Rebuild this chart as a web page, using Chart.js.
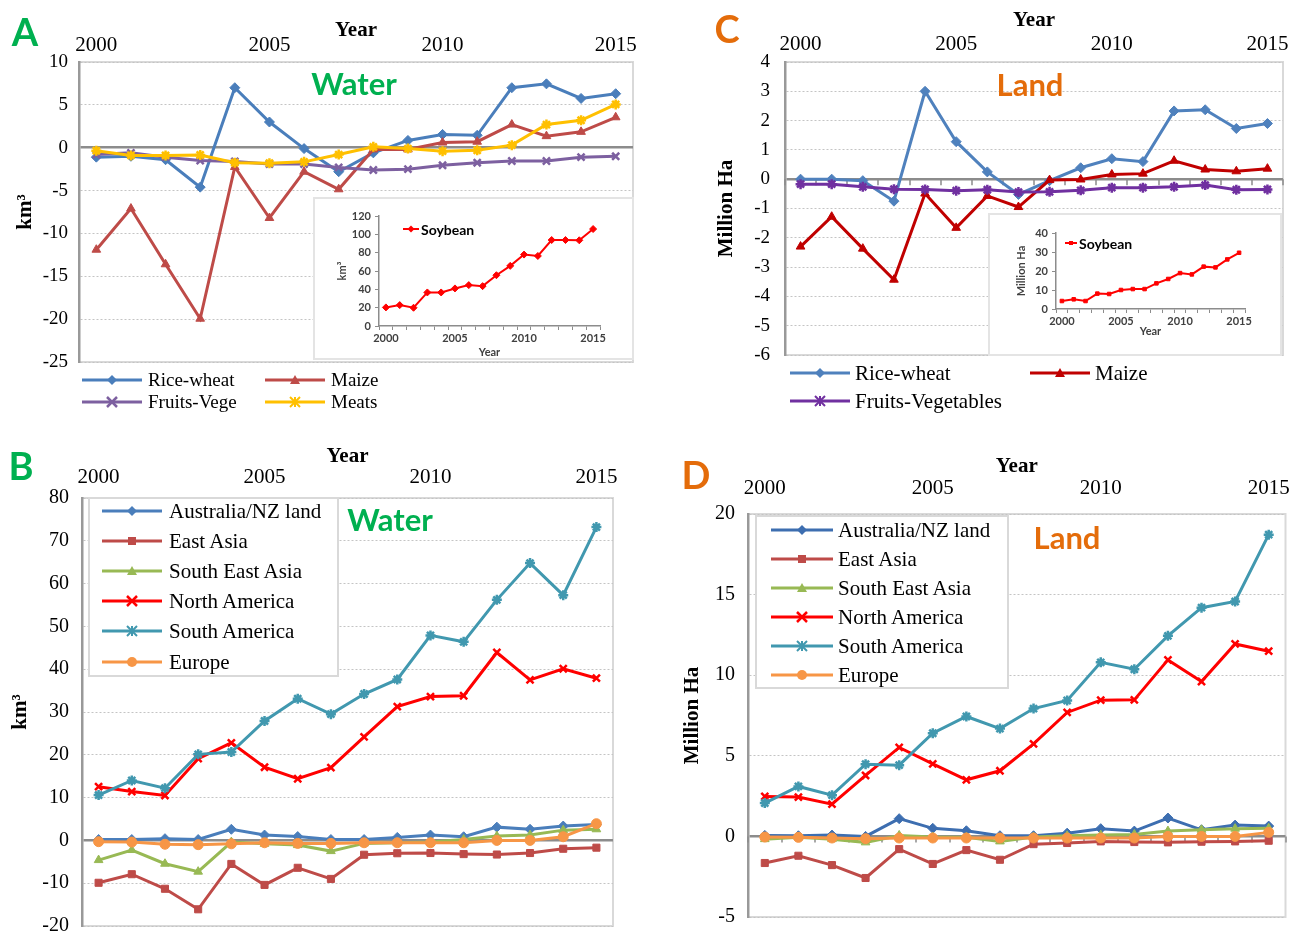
<!DOCTYPE html>
<html>
<head>
<meta charset="utf-8">
<script src="https://cdn.jsdelivr.net/npm/chart.js@4.4.1/dist/chart.umd.min.js"></script>
<style>
  body { margin: 0; background: #fff; width: 1293px; height: 937px; position: relative; overflow: hidden; font-family: "Liberation Serif", serif; }
  canvas { position: absolute; }
  .txt { position: absolute; transform: translate(-50%, -50%); white-space: nowrap; font-family: Lato, "Open Sans", sans-serif; font-weight: bold; }
  .inset { position: absolute; background: #fff; border: 2px solid #e4e4e4; box-sizing: border-box; }
  .legbox { position: absolute; background: #fff; border: 2px solid #d9d9d9; box-sizing: border-box; }
  .lg { position: absolute; display: flex; align-items: center; height: 24px; white-space: nowrap; color: #000; }
  .lg svg { flex: none; }
</style>
</head>
<body>
<canvas id="chartA" width="642" height="373" style="left:0px;top:0px"></canvas>
<canvas id="chartB" width="621" height="507" style="left:0px;top:430px"></canvas>
<canvas id="chartC" width="588" height="366" style="left:705px;top:0px"></canvas>
<canvas id="chartD" width="621" height="488" style="left:672px;top:440px"></canvas>

<div class="inset" style="left:313px;top:197px;width:321px;height:163px"></div>
<canvas id="insetA" width="321" height="163" style="left:313px;top:197px"></canvas>
<div class="inset" style="left:988px;top:213px;width:294px;height:143px"></div>
<canvas id="insetC" width="294" height="143" style="left:988px;top:213px"></canvas>

<div class="legbox" style="left:88px;top:497px;width:251px;height:180px"></div>
<div class="legbox" style="left:755px;top:515px;width:254px;height:174px"></div>

<div class="txt" style="left:25px;top:31px;font-size:38px;color:#00b050">A</div>
<div class="txt" style="left:21px;top:465px;font-size:38px;color:#00b050">B</div>
<div class="txt" style="left:727px;top:28px;font-size:38px;color:#e46c0a">C</div>
<div class="txt" style="left:696px;top:474px;font-size:38px;color:#e46c0a">D</div>
<div class="txt" style="left:354px;top:83px;font-size:31px;color:#00b050">Water</div>
<div class="txt" style="left:390px;top:519px;font-size:31px;color:#00b050">Water</div>
<div class="txt" style="left:1030px;top:84px;font-size:31px;color:#e46c0a">Land</div>
<div class="txt" style="left:1067px;top:537px;font-size:31px;color:#e46c0a">Land</div>

<script>
const years = ['2000', '2001', '2002', '2003', '2004', '2005', '2006', '2007',
               '2008', '2009', '2010', '2011', '2012', '2013', '2014', '2015'];

// A - water by crop (km3)
const waterRiceWheat  = [-1.1, -1.0, -1.4, -4.6, 7.0, 3.0, -0.1, -2.8, -0.6, 0.85, 1.55, 1.45, 7.0, 7.45, 5.75, 6.3];
const waterMaize      = [-11.9, -7.1, -13.6, -19.95, -2.25, -8.2, -2.8, -4.85, -0.2, -0.2, 0.6, 0.7, 2.7, 1.35, 1.85, 3.55];
const waterFruitsVege = [-0.8, -0.6, -1.1, -1.5, -1.6, -1.9, -1.9, -2.3, -2.6, -2.5, -2.05, -1.75, -1.55, -1.55, -1.1, -1.0];
const waterMeats      = [-0.35, -0.9, -0.9, -0.85, -1.75, -1.8, -1.65, -0.8, 0.1, -0.1, -0.4, -0.3, 0.3, 2.7, 3.2, 5.05];
const soyWater        = [20.3, 22.8, 19.9, 36.6, 36.6, 41, 44.6, 43.5, 55.4, 65.6, 77.9, 76.4, 93.8, 93.8, 93.5, 105.8];

// C - land by crop (million ha)
const landRiceWheat = [0.0, 0.0, -0.05, -0.75, 3.0, 1.28, 0.25, -0.52, -0.05, 0.39, 0.7, 0.6, 2.33, 2.37, 1.73, 1.9];
const landMaize     = [-2.3, -1.28, -2.37, -3.43, -0.49, -1.66, -0.57, -0.95, -0.03, -0.01, 0.16, 0.19, 0.63, 0.33, 0.27, 0.36];
const landFruitsVeg = [-0.17, -0.17, -0.26, -0.34, -0.35, -0.39, -0.36, -0.44, -0.43, -0.38, -0.29, -0.29, -0.26, -0.2, -0.36, -0.35];
const soyLand       = [4.2, 5.1, 4.2, 8.1, 7.9, 10, 10.5, 10.5, 13.5, 15.8, 18.9, 18.2, 22.3, 21.9, 26.1, 29.6];

// B - water by region (km3)
const wAusNZ    = [0.2, 0.2, 0.4, 0.2, 2.6, 1.25, 0.9, 0.2, 0.2, 0.7, 1.25, 0.85, 3.1, 2.6, 3.35, 3.7];
const wEastAsia = [-9.9, -7.9, -11.3, -16.1, -5.5, -10.4, -6.4, -9.0, -3.35, -3.0, -2.95, -3.2, -3.3, -2.95, -1.95, -1.7];
const wSEAsia   = [-4.6, -2.25, -5.45, -7.3, -0.4, -0.8, -1.1, -2.5, -0.7, -0.55, -0.4, 0.2, 1.0, 1.25, 2.4, 2.6];
const wNorthAm  = [12.55, 11.4, 10.5, 19.1, 22.8, 17.1, 14.4, 17.0, 24.2, 31.25, 33.6, 33.8, 43.9, 37.5, 40.1, 37.9];
const wSouthAm  = [10.6, 14.0, 12.2, 20.1, 20.65, 27.9, 33.1, 29.5, 34.2, 37.6, 47.9, 46.4, 56.2, 64.8, 57.3, 73.2];
const wEurope   = [-0.3, -0.4, -0.9, -1.0, -0.8, -0.55, -0.7, -0.7, -0.55, -0.55, -0.55, -0.55, 0, 0, 0.85, 3.9];

// D - land by region (million ha)
const lAusNZ    = [0.06, 0.04, 0.08, 0, 1.1, 0.5, 0.35, 0.04, 0.04, 0.2, 0.48, 0.33, 1.14, 0.41, 0.7, 0.64];
const lEastAsia = [-1.65, -1.2, -1.78, -2.58, -0.79, -1.71, -0.85, -1.45, -0.48, -0.41, -0.31, -0.35, -0.37, -0.33, -0.31, -0.27];
const lSEAsia   = [-0.17, -0.06, -0.17, -0.37, 0.06, -0.04, -0.06, -0.31, -0.04, 0.04, 0.08, 0.12, 0.33, 0.41, 0.48, 0.5];
const lNorthAm  = [2.48, 2.44, 2.0, 3.78, 5.52, 4.5, 3.51, 4.07, 5.74, 7.69, 8.45, 8.47, 10.95, 9.61, 11.94, 11.49];
const lSouthAm  = [2.07, 3.1, 2.56, 4.48, 4.42, 6.4, 7.44, 6.69, 7.93, 8.43, 10.8, 10.37, 12.44, 14.19, 14.57, 18.72];
const lEurope   = [-0.04, -0.06, -0.1, -0.14, -0.1, -0.1, -0.1, -0.1, -0.1, -0.1, -0.1, -0.1, 0, 0, 0, 0.25];

// y axis ranges [min, max, step]
const yRangeA = [-25, 10, 5];
const yRangeB = [-20, 80, 10];
const yRangeC = [-6, 4, 1];
const yRangeD = [-5, 20, 5];
const yRangeSoyWater = [0, 120, 20];
const yRangeSoyLand = [0, 40, 10];

const SERIF = '"Liberation Serif", "Times New Roman", serif';
const SANS = 'Lato, "Open Sans", sans-serif';

// light grey box round the plot area, like excel
const frame = {
    id: 'frame',
    beforeDraw(chart) {
        const a = chart.chartArea, ctx = chart.ctx;
        ctx.save();
        ctx.strokeStyle = '#d9d9d9';
        ctx.lineWidth = 2;
        ctx.strokeRect(a.left, a.top, a.right - a.left, a.bottom - a.top);
        ctx.restore();
    }
};

// small tick marks hanging under the zero line (panels C and D)
const zeroTicks = {
    id: 'zeroTicks',
    beforeDatasetsDraw(chart, args, opts) {
        if (!opts.show) return;
        const x = chart.scales.x, y0 = chart.scales.y.getPixelForValue(0), ctx = chart.ctx;
        const half = (x.getPixelForTick(1) - x.getPixelForTick(0)) / 2;
        ctx.save();
        ctx.strokeStyle = '#8c8c8c';
        ctx.lineWidth = 1.5;
        ctx.beginPath();
        for (let i = 0; i <= years.length; i++) {
            const px = Math.round(x.getPixelForTick(0) - half + i * 2 * half);
            ctx.moveTo(px, y0);
            ctx.lineTo(px, y0 + 6);
        }
        ctx.stroke();
        ctx.restore();
    }
};

function line(label, data, color, pointStyle) {
    const thin = pointStyle === 'crossRot' || pointStyle === 'star';
    return {
        label, data,
        borderColor: color, backgroundColor: color,
        pointBorderColor: color, pointBackgroundColor: color,
        pointStyle, pointRadius: 5, pointBorderWidth: thin ? 2.5 : 1,
        borderWidth: 3, tension: 0,
    };
}

function mainChart(id, datasets, range, yTitle, c) {
    datasets.forEach((d, i) => { d.order = datasets.length - i; });
    return new Chart(document.getElementById(id), {
        type: 'line',
        data: { labels: years, datasets },
        options: {
            responsive: false,
            animation: false,
            layout: { padding: { top: 0, left: 0, right: c.padRight, bottom: 11 } },
            plugins: { legend: { display: false }, tooltip: { enabled: false }, zeroTicks: { show: !!c.zeroTicks } },
            scales: {
                x: {
                    type: 'category',
                    position: 'top',
                    offset: true,
                    grid: { display: false },
                    border: { display: false },
                    ticks: {
                        autoSkip: false, maxRotation: 0, minRotation: 0,
                        padding: c.tickPadX, color: '#000',
                        font: { family: SERIF, size: 21 },
                        callback: (v, i) => (i % 5 === 0 ? years[i] : ''),
                    },
                    title: {
                        display: true, text: 'Year', color: '#000',
                        font: { family: SERIF, size: 21, weight: 'bold' },
                        padding: { top: c.yearPad, bottom: 0 },
                    },
                    afterFit: s => { s.height = c.xH; s.paddingLeft = 0; s.paddingRight = 0; },
                },
                y: {
                    min: range[0], max: range[1],
                    ticks: {
                        stepSize: range[2], padding: c.tickPadY, color: '#000',
                        font: { family: SERIF, size: c.ySize || 19 },
                    },
                    grid: {
                        drawTicks: false,
                        color: ctx => (ctx.tick && ctx.tick.value === 0 ? '#8c8c8c' : '#c4c4c4'),
                        lineWidth: ctx => (ctx.tick && ctx.tick.value === 0 ? 2.5 : 1),
                    },
                    border: {
                        display: true, color: '#999', width: 2.5,
                        dash: ctx => (ctx.tick && ctx.tick.value === 0 ? [] : [2, 2]),
                    },
                    title: {
                        display: true, text: yTitle, color: '#000',
                        font: { family: SERIF, size: 21, weight: 'bold' },
                        padding: { top: c.yTitlePad, bottom: 0 },
                    },
                    afterFit: s => { s.width = c.yW; s.paddingTop = 0; s.paddingBottom = 0; },
                },
            },
        },
        plugins: [frame, zeroTicks],
    });
}

function insetChart(id, data, color, pointStyle, radius, range, yTitle, c) {
    const small = { family: SANS, size: 11, weight: 'bold' };
    return new Chart(document.getElementById(id), {
        type: 'line',
        data: {
            labels: years,
            datasets: [{
                label: 'Soybean', data,
                borderColor: color, backgroundColor: color,
                pointStyle, pointRadius: radius, pointBorderWidth: 1,
                borderWidth: 2, tension: 0,
            }],
        },
        options: {
            responsive: false,
            animation: false,
            layout: { padding: c.pad },
            plugins: { legend: { display: false }, tooltip: { enabled: false } },
            scales: {
                x: {
                    type: 'category', offset: true,
                    grid: { offset: true, drawOnChartArea: false, tickLength: 4, color: '#8c8c8c' },
                    border: { color: '#8c8c8c', width: 1.5 },
                    ticks: {
                        autoSkip: false, maxRotation: 0, padding: 2, color: '#404040', font: small,
                        callback: (v, i) => (i % 5 === 0 ? years[i] : ''),
                    },
                    title: { display: true, text: 'Year', color: '#404040', font: small, padding: { top: 0, bottom: 1 } },
                    afterFit: s => { s.height = c.xH; s.paddingLeft = 0; s.paddingRight = 0; },
                },
                y: {
                    min: range[0], max: range[1],
                    ticks: { stepSize: range[2], padding: 4, color: '#404040', font: small },
                    grid: { drawOnChartArea: false, tickLength: 4, color: '#8c8c8c' },
                    border: { color: '#8c8c8c', width: 1.5 },
                    title: { display: true, text: yTitle, color: '#404040', font: small, padding: { top: c.yTitlePad, bottom: 0 } },
                    afterFit: s => { s.width = c.yW; s.paddingTop = 0; s.paddingBottom = 0; },
                },
            },
        },
    });
}

// legend swatch: a line with the series marker in the middle
function markerSvg(style, col, w, r) {
    const x = w / 2, y = 8;
    switch (style) {
        case 'rectRot':
            return `<polygon points="${x},${y - r} ${x + r},${y} ${x},${y + r} ${x - r},${y}" fill="${col}"/>`;
        case 'triangle':
            return `<polygon points="${x},${y - r} ${x + r},${y + r * 0.8} ${x - r},${y + r * 0.8}" fill="${col}"/>`;
        case 'rect':
            return `<rect x="${x - r * 0.8}" y="${y - r * 0.8}" width="${r * 1.6}" height="${r * 1.6}" fill="${col}"/>`;
        case 'circle':
            return `<circle cx="${x}" cy="${y}" r="${r}" fill="${col}"/>`;
        case 'crossRot':
            return `<path d="M${x - r} ${y - r}L${x + r} ${y + r}M${x + r} ${y - r}L${x - r} ${y + r}" stroke="${col}" stroke-width="2.5"/>`;
        case 'star':
            return `<path d="M${x - r} ${y - r}L${x + r} ${y + r}M${x + r} ${y - r}L${x - r} ${y + r}M${x} ${y - r}L${x} ${y + r}M${x - r} ${y}L${x + r} ${y}" stroke="${col}" stroke-width="2"/>`;
    }
    return '';
}

function legend(chart, spots, opt) {
    chart.data.datasets.forEach((ds, i) => {
        const p = spots[i];
        if (!p) return;
        const w = opt.lineW;
        const d = document.createElement('div');
        d.className = 'lg';
        d.style.left = p[0] + 'px';
        d.style.top = (p[1] - 12) + 'px';
        d.style.fontSize = opt.size + 'px';
        d.style.fontFamily = opt.family || SERIF;
        if (opt.bold) d.style.fontWeight = 'bold';
        d.style.zIndex = 5;
        d.innerHTML = `<svg width="${w}" height="16"><line x1="0" y1="8" x2="${w}" y2="8" stroke="${ds.borderColor}" stroke-width="${opt.stroke}"/>` +
            markerSvg(ds.pointStyle, ds.borderColor, w, opt.r) + `</svg><span style="margin-left:${opt.gap}px">${ds.label}</span>`;
        document.body.appendChild(d);
    });
}

const chartA = mainChart('chartA', [
    line('Rice-wheat', waterRiceWheat, '#4a7ebb', 'rectRot'),
    line('Maize', waterMaize, '#be4b48', 'triangle'),
    line('Fruits-Vege', waterFruitsVege, '#7d60a0', 'crossRot'),
    line('Meats', waterMeats, '#ffc000', 'star'),
], yRangeA, 'km³', { padRight: 9, xH: 62, yW: 79, tickPadX: -4, yearPad: 18, tickPadY: 11, yTitlePad: 13 });

const chartB = mainChart('chartB', [
    line('Australia/NZ land', wAusNZ, '#4a7ebb', 'rectRot'),
    line('East Asia', wEastAsia, '#be4b48', 'rect'),
    line('South East Asia', wSEAsia, '#98b954', 'triangle'),
    line('North America', wNorthAm, '#ff0000', 'crossRot'),
    line('South America', wSouthAm, '#4198af', 'star'),
    line('Europe', wEurope, '#f79646', 'circle'),
], yRangeB, 'km³', { padRight: 8, xH: 68, yW: 82, tickPadX: 0, yearPad: 14, tickPadY: 13, yTitlePad: 8, ySize: 20 });

const chartC = mainChart('chartC', [
    line('Rice-wheat', landRiceWheat, '#4f81bd', 'rectRot'),
    line('Maize', landMaize, '#c00000', 'triangle'),
    line('Fruits-Vegetables', landFruitsVeg, '#7030a0', 'star'),
], yRangeC, 'Million Ha', { padRight: 10, xH: 62, yW: 80, tickPadX: -3, yearPad: 8, tickPadY: 15, yTitlePad: 9, zeroTicks: true });

const chartD = mainChart('chartD', [
    line('Australia/NZ land', lAusNZ, '#3d6eb0', 'rectRot'),
    line('East Asia', lEastAsia, '#be4b48', 'rect'),
    line('South East Asia', lSEAsia, '#98b954', 'triangle'),
    line('North America', lNorthAm, '#ff0000', 'crossRot'),
    line('South America', lSouthAm, '#4198af', 'star'),
    line('Europe', lEurope, '#f79646', 'circle'),
], yRangeD, 'Million Ha', { padRight: 6, xH: 74, yW: 76, tickPadX: 5, yearPad: 14, tickPadY: 13, yTitlePad: 8, ySize: 20, zeroTicks: true });

const insA = insetChart('insetA', soyWater, '#ff0000', 'rectRot', 3.5, yRangeSoyWater, 'km³',
    { pad: { top: 19, right: 34, bottom: 0, left: 0 }, xH: 34, yW: 66, yTitlePad: 23 });
const insC = insetChart('insetC', soyLand, '#ff0000', 'rect', 2.5, yRangeSoyLand, 'Million Ha',
    { pad: { top: 20, right: 37, bottom: 17, left: 0 }, xH: 30, yW: 68, yTitlePad: 27 });

legend(chartA, [[82, 380], [265, 380], [82, 402], [265, 402]], { lineW: 60, size: 19, gap: 6, stroke: 3, r: 5 });
legend(chartC, [[790, 373], [1030, 373], [790, 401]], { lineW: 60, size: 21, gap: 5, stroke: 3, r: 5 });
legend(chartB, [[102, 511], [102, 541], [102, 571], [102, 601], [102, 631], [102, 662]], { lineW: 60, size: 21, gap: 7, stroke: 3, r: 5 });
legend(chartD, [[771, 530], [771, 559], [771, 588], [771, 617], [771, 646], [771, 675]], { lineW: 62, size: 21, gap: 5, stroke: 3, r: 5 });
legend(insA, [[403, 229]], { lineW: 16, size: 14, gap: 2, stroke: 2, r: 3.5, family: SANS, bold: true });
legend(insC, [[1065, 243]], { lineW: 12, size: 14, gap: 2, stroke: 2, r: 2.5, family: SANS, bold: true });
</script>
</body>
</html>
